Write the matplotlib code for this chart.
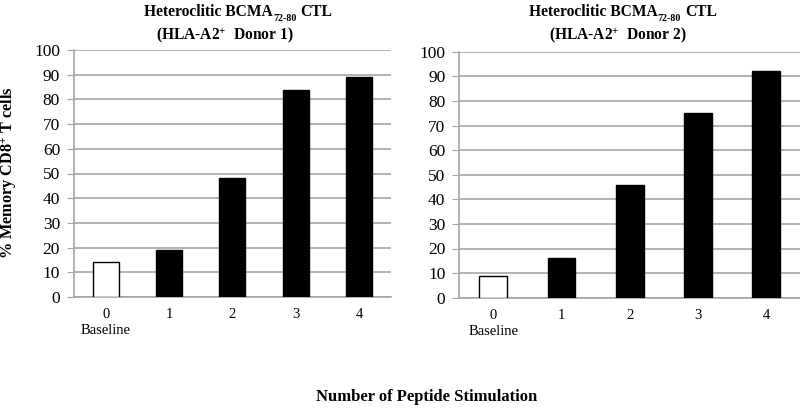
import matplotlib
matplotlib.use("Agg")
import matplotlib.pyplot as plt

stimulations = ["0\nBaseline", "1", "2", "3", "4"]
donor1_memory = [14, 19, 48, 84, 89]
donor2_memory = [9, 16, 46, 75, 92]
yticks = [0, 10, 20, 30, 40, 50, 60, 70, 80, 90, 100]

plt.rcParams['font.family'] = ['Liberation Serif', 'DejaVu Serif']
plt.rcParams['mathtext.fontset'] = 'custom'
plt.rcParams['mathtext.rm'] = 'Liberation Serif:bold'
plt.rcParams['mathtext.it'] = 'Liberation Serif:bold'
plt.rcParams['mathtext.bf'] = 'Liberation Serif:bold'

W, H = 800, 408
fig = plt.figure(figsize=(8, 4.08), dpi=100)

def fx(px):
    return px / W

def fy(py):
    return 1 - py / H

grid_col = '#a6a6a6'
TFS = 11.2
title_pieces = []

def draw_panel(rect, values, t1x, t2x, t2):
    ax = fig.add_axes(rect)
    x = list(range(len(values)))
    colors = ['white' if i == 0 else 'black' for i in x]
    ax.bar(x, values, width=0.41, color=colors, edgecolor='black', linewidth=1.0, zorder=3)
    ax.set_xlim(-0.5, len(values) - 0.5)
    ax.set_ylim(0, 100)
    ax.set_yticks(yticks)
    ax.set_xticks(x)
    ax.set_xticklabels(stimulations, fontsize=10.5, linespacing=1.3)
    ax.tick_params(axis='y', labelsize=12.5, length=5, color=grid_col, pad=5)
    ax.tick_params(axis='x', length=0, pad=8)
    ax.yaxis.grid(True, color=grid_col, linewidth=1.2, zorder=0)
    ax.set_axisbelow(True)
    for s in ['top', 'right']:
        ax.spines[s].set_visible(False)
    for s in ['left', 'bottom']:
        ax.spines[s].set_color(grid_col)
        ax.spines[s].set_linewidth(1.2)
    # title line 1, built from pieces so the subscript is compact
    ta = fig.text(fx(t1x), fy(16), "Heteroclitic BCMA", ha='left', va='baseline',
                  fontsize=TFS, fontweight='bold')
    ts = ax.annotate("72-80", xy=(1, 0), xycoords=ta, xytext=(0.3, -2.0),
                     textcoords='offset points', ha='left', va='bottom',
                     fontsize=7.2, fontweight='bold', annotation_clip=False)
    tc = ax.annotate("CTL", xy=(1, 0), xycoords=(ts, ta), xytext=(3.0, 0),
                     textcoords='offset points', ha='left', va='bottom',
                     fontsize=TFS, fontweight='bold', annotation_clip=False)
    title_pieces.append((ta, tc, t1x))
    fig.text(fx(t2x), fy(35), t2,
             ha='center', va='center', fontsize=TFS, fontweight='bold')
    return ax

draw_panel([fx(74), fy(297), fx(390.7) - fx(74), fy(50) - fy(297)], donor1_memory,
           238, 225, r"(HLA-A2$^{+}$  Donor 1)")
draw_panel([fx(459.3), fy(297.7), fx(800) - fx(459.3), fy(51.7) - fy(297.7)], donor2_memory,
           623, 618, r"(HLA-A2$^{+}$  Donor 2)")

fig.text(fx(9), fy(173), r"% Memory CD8$^{+}$ T cells", rotation=90,
         ha='center', va='center', fontsize=11.7, fontweight='bold')
fig.text(fx(427), fy(397), "Number of Peptide Stimulation",
         ha='center', va='center', fontsize=12, fontweight='bold')

# centre each composite title line on its target position
fig.canvas.draw()
r = fig.canvas.get_renderer()
for ta, tc, cx in title_pieces:
    x0 = ta.get_window_extent(r).x0
    x1 = tc.get_window_extent(r).x1
    width = x1 - x0
    ta.set_x(fx(cx - width / 2))

fig.savefig("out.png", dpi=100)
